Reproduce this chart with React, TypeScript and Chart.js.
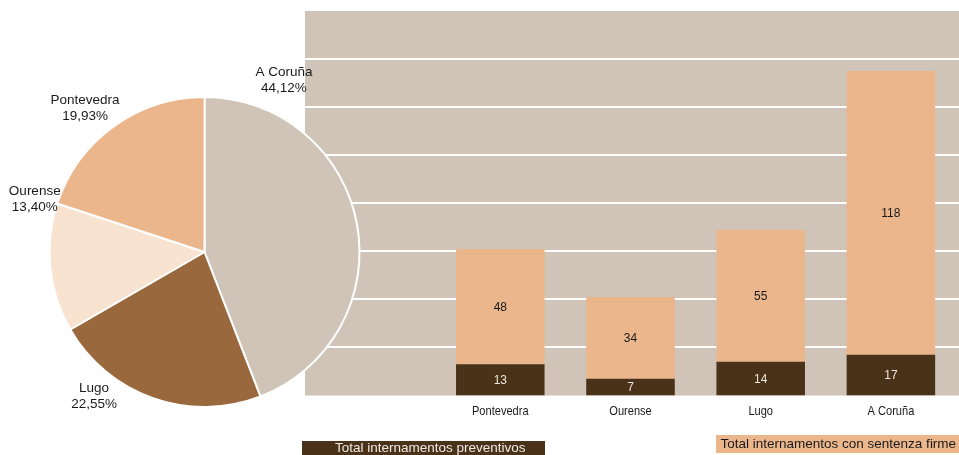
import React, { useEffect, useRef } from 'react';
import { Chart, registerables } from 'chart.js';

Chart.register(...registerables);

// ---------- data ----------
const categories = ['Pontevedra', 'Ourense', 'Lugo', 'A Coruña'];
const preventivos = [13, 7, 14, 17];
const sentenzaFirme = [48, 34, 55, 118];
const seriesNames = ['Total internamentos preventivos', 'Total internamentos con sentenza firme'];
const yTicks = [20, 40, 60, 80, 100, 120, 140];
const pieCategories = ['A Coruña', 'Lugo', 'Ourense', 'Pontevedra'];
const pieTotals = [135, 69, 41, 61];

// ---------- style ----------
const FONT = "'Liberation Sans', Arial, sans-serif";
const C_DARK = '#4A3219';
const C_ORANGE = '#EBB68C';
const C_BG = '#D0C4B8';
const C_LUGO = '#9A683D';
const C_OURENSE = '#F8E3D1';
const pieColors = [C_BG, C_LUGO, C_OURENSE, C_ORANGE];
// label placement around the pie: angle (deg, clockwise from top) and distance in radii
const pieLabelPlacement = [
  { angle: 24.8, dist: 1.222 },
  { angle: 217.4, dist: 1.173 },
  { angle: 287.3, dist: 1.147 },
  { angle: 320.3, dist: 1.206 },
];

const plotBgPlugin = {
  id: 'plotBg',
  beforeDraw(chart: any) {
    const { ctx, chartArea } = chart;
    const y = chart.scales.y;
    ctx.save();
    ctx.fillStyle = C_BG;
    ctx.fillRect(chartArea.left, chartArea.top, chart.width - chartArea.left, chartArea.bottom - chartArea.top);
    ctx.strokeStyle = '#ffffff';
    ctx.lineWidth = 2;
    yTicks.forEach((t) => {
      const py = Math.round(y.getPixelForValue(t));
      ctx.beginPath();
      ctx.moveTo(chartArea.left, py);
      ctx.lineTo(chart.width, py);
      ctx.stroke();
    });
    ctx.restore();
  },
};

// category labels in a condensed look (horizontal squeeze of the sans font)
const xLabelPlugin = {
  id: 'xLabels',
  afterDraw(chart: any) {
    const { ctx, chartArea } = chart;
    const xs = chart.scales.x;
    ctx.save();
    ctx.font = `13.5px ${FONT}`;
    ctx.fillStyle = '#1a1a1a';
    ctx.textAlign = 'center';
    ctx.textBaseline = 'middle';
    (chart.data.labels as string[]).forEach((lab, i) => {
      if (!lab) return;
      ctx.save();
      ctx.translate(xs.getPixelForValue(i), chartArea.bottom + 16);
      ctx.scale(0.82, 1);
      ctx.fillText(lab, 0, 0);
      ctx.restore();
    });
    ctx.restore();
  },
};

const barLabelPlugin = {
  id: 'barLabels',
  afterDatasetsDraw(chart: any) {
    const { ctx } = chart;
    ctx.save();
    ctx.font = `12px ${FONT}`;
    ctx.textAlign = 'center';
    ctx.textBaseline = 'middle';
    chart.data.datasets.forEach((ds: any, di: number) => {
      const meta = chart.getDatasetMeta(di);
      ctx.fillStyle = di === 0 ? '#EDE6DE' : '#1a1a1a';
      meta.data.forEach((bar: any, i: number) => {
        const v = ds.data[i];
        if (v === null || v === undefined) return;
        const { x, y, base } = bar.getProps(['x', 'y', 'base'], true);
        ctx.fillText(String(v), x, (y + base) / 2 + 1);
      });
    });
    ctx.restore();
  },
};

const legendPlugin = {
  id: 'boxLegend',
  afterDraw(chart: any) {
    const { ctx } = chart;
    const ds = chart.data.datasets;
    ctx.save();
    ctx.font = `13.5px ${FONT}`;
    ctx.textBaseline = 'middle';
    ctx.textAlign = 'left';
    ctx.fillStyle = ds[0].backgroundColor;
    ctx.fillRect(302, 441, 243, 14);
    ctx.fillStyle = '#EFEAE4';
    ctx.fillText(ds[0].label, 335, 448.5);
    ctx.fillStyle = ds[1].backgroundColor;
    ctx.fillRect(716, 435, 243, 18);
    ctx.fillStyle = '#1a1a1a';
    ctx.fillText(ds[1].label, 720.5, 444.5);
    ctx.restore();
  },
};

const pieLabelPlugin = {
  id: 'pieLabels',
  afterDraw(chart: any) {
    const { ctx } = chart;
    const meta = chart.getDatasetMeta(0);
    const data = chart.data.datasets[0].data as number[];
    const total = data.reduce((a, b) => a + b, 0);
    ctx.save();
    ctx.font = `13.5px ${FONT}`;
    ctx.fillStyle = '#1a1a1a';
    ctx.textAlign = 'center';
    ctx.textBaseline = 'middle';
    meta.data.forEach((arc: any, i: number) => {
      const { x, y, outerRadius } = arc.getProps(['x', 'y', 'outerRadius'], true);
      const p = pieLabelPlacement[i];
      const a = (p.angle * Math.PI) / 180;
      const cx = x + Math.sin(a) * outerRadius * p.dist;
      const cy = y - Math.cos(a) * outerRadius * p.dist;
      const pct = ((data[i] / total) * 100).toFixed(2).replace('.', ',') + '%';
      ctx.fillText(chart.data.labels[i], cx, cy - 7.75);
      ctx.fillText(pct, cx, cy + 7.75);
    });
    ctx.restore();
  },
};

export default function App() {
  const barRef = useRef<HTMLCanvasElement>(null);
  const pieRef = useRef<HTMLCanvasElement>(null);

  useEffect(() => {
    const bar = new Chart(barRef.current!, {
      type: 'bar',
      data: {
        labels: ['', ...categories],
        datasets: [
          {
            label: seriesNames[0],
            data: [null, ...preventivos],
            backgroundColor: C_DARK,
            categoryPercentage: 1,
            barPercentage: 0.68,
          },
          {
            label: seriesNames[1],
            data: [null, ...sentenzaFirme],
            backgroundColor: C_ORANGE,
            categoryPercentage: 1,
            barPercentage: 0.68,
          },
        ],
      },
      options: {
        animation: false,
        responsive: false,
        layout: { padding: { left: 305, right: 3, top: 11, bottom: 59.5 } },
        plugins: { legend: { display: false }, tooltip: { enabled: false } },
        scales: {
          x: {
            stacked: true,
            display: false,
          },
          y: {
            stacked: true,
            display: false,
            min: 0,
            max: 160,
          },
        },
      },
      plugins: [plotBgPlugin, barLabelPlugin, xLabelPlugin, legendPlugin],
    } as any);

    const pie = new Chart(pieRef.current!, {
      type: 'pie',
      data: {
        labels: pieCategories,
        datasets: [
          {
            data: pieTotals,
            backgroundColor: pieColors,
            borderColor: '#ffffff',
            borderWidth: 2,
          },
        ],
      },
      options: {
        animation: false,
        responsive: false,
        radius: 155,
        layout: { padding: { left: 0, right: 11, top: 49, bottom: 0 } },
        plugins: { legend: { display: false }, tooltip: { enabled: false } },
      },
      plugins: [pieLabelPlugin],
    } as any);

    return () => {
      bar.destroy();
      pie.destroy();
    };
  }, []);

  return (
    <div style={{ position: 'absolute', left: 0, top: 0, width: 959, height: 455, background: '#fff' }}>
      <canvas ref={barRef} width={959} height={455} style={{ position: 'absolute', left: 0, top: 0 }} />
      <canvas ref={pieRef} width={420} height={455} style={{ position: 'absolute', left: 0, top: 0 }} />
    </div>
  );
}
